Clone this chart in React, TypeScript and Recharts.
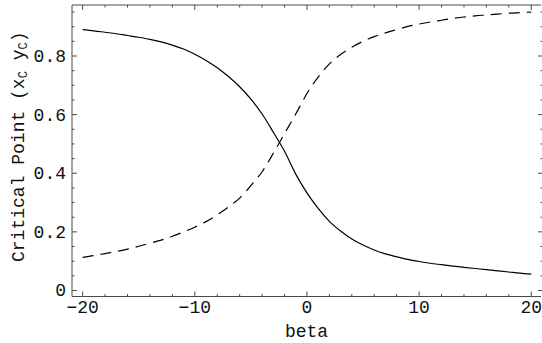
import { LineChart, Line, XAxis, YAxis, Label } from "recharts";

const betaValues = [
  -20, -19, -18, -17, -16, -15, -14, -13, -12, -11, -10, -9, -8, -7, -6, -5, -4, -3, -2, -1, 0,
  1, 2, 3, 4, 5, 6, 7, 8, 9, 10, 11, 12, 13, 14, 15, 16, 17, 18, 19, 20,
];
const xcValues = [
  0.89, 0.886, 0.881, 0.876, 0.87, 0.864, 0.857, 0.848, 0.837, 0.824, 0.806, 0.785, 0.76, 0.73,
  0.695, 0.653, 0.602, 0.54, 0.475, 0.397, 0.333, 0.28, 0.236, 0.203, 0.176, 0.155, 0.138, 0.125,
  0.115, 0.106, 0.099, 0.093, 0.088, 0.083, 0.079, 0.075, 0.071, 0.067, 0.063, 0.059, 0.056,
];
const ycValues = [
  0.113, 0.119, 0.126, 0.133, 0.141, 0.151, 0.161, 0.172, 0.185, 0.2, 0.216, 0.235, 0.258, 0.285,
  0.315, 0.358, 0.405, 0.468, 0.535, 0.602, 0.672, 0.728, 0.773, 0.805, 0.83, 0.85, 0.866, 0.879,
  0.89, 0.901, 0.909, 0.916, 0.922, 0.928, 0.933, 0.937, 0.94, 0.943, 0.946, 0.948, 0.95,
];

const xTicks = [-20, -18, -16, -14, -12, -10, -8, -6, -4, -2, 0, 2, 4, 6, 8, 10, 12, 14, 16, 18, 20];
const xLabelTicks = [-20, -10, 0, 10, 20];
const yTicks = [
  0, 0.05, 0.1, 0.15, 0.2, 0.25, 0.3, 0.35, 0.4, 0.45, 0.5, 0.55, 0.6, 0.65, 0.7, 0.75, 0.8, 0.85,
  0.9, 0.95,
];
const yLabelTicks = [0, 0.2, 0.4, 0.6, 0.8];

const data = betaValues.map((b, i) => ({ beta: b, xc: xcValues[i], yc: ycValues[i] }));

const FONT = "'Liberation Mono', 'DejaVu Sans Mono', monospace";
const FS = 18;
const FRAME = "#4a4a4a";
const TICK_GAP = 2;
const MAJOR = 5;
const MINOR = 2.5;

const isMajor = (v: number, list: number[]) => list.some((m) => Math.abs(m - v) < 1e-6);

function BottomTick(props: any) {
  const { x, y, payload } = props;
  const v = payload.value;
  const major = isMajor(v, xLabelTicks);
  const base = y - TICK_GAP;
  return (
    <g>
      <line x1={x} x2={x} y1={base} y2={base - (major ? MAJOR : MINOR)} stroke={FRAME} strokeWidth={1} />
      {major && (
        <text x={x} y={base + 16} textAnchor="middle" fontFamily={FONT} fontSize={FS} fill="#111">
          {v < 0 ? `\u2212${Math.abs(v)}` : String(v)}
        </text>
      )}
    </g>
  );
}

function TopTick(props: any) {
  const { x, y, payload } = props;
  const major = isMajor(payload.value, xLabelTicks);
  const base = y + TICK_GAP;
  return <line x1={x} x2={x} y1={base} y2={base + (major ? MAJOR : MINOR)} stroke={FRAME} strokeWidth={1} />;
}

function LeftTick(props: any) {
  const { x, y, payload } = props;
  const v = payload.value;
  const major = isMajor(v, yLabelTicks);
  const base = x + TICK_GAP;
  return (
    <g>
      <line x1={base} x2={base + (major ? MAJOR : MINOR)} y1={y} y2={y} stroke={FRAME} strokeWidth={1} />
      {major && (
        <text x={base - 6} y={y + 6} textAnchor="end" fontFamily={FONT} fontSize={FS} fill="#111">
          {v === 0 ? "0" : v.toFixed(1)}
        </text>
      )}
    </g>
  );
}

// the right frame edge sits just past the picture, so only the tips of its ticks show
function RightTick(props: any) {
  const { x, y, payload } = props;
  const major = isMajor(payload.value, yLabelTicks);
  return <line x1={x} x2={x - (major ? MAJOR : MINOR)} y1={y} y2={y} stroke={FRAME} strokeWidth={1} />;
}

function YTitle(props: any) {
  const { viewBox } = props;
  const cy = viewBox.y + viewBox.height / 2 - 4;
  const cx = 24;
  return (
    <text
      x={cx}
      y={cy}
      transform={`rotate(-90, ${cx}, ${cy})`}
      textAnchor="middle"
      fontFamily={FONT}
      fontSize={FS}
      fill="#111"
    >
      Critical Point (x
      <tspan fontSize={12} dy={3}>C</tspan>
      <tspan dy={-3}> y</tspan>
      <tspan fontSize={12} dy={3}>C</tspan>
      <tspan dy={-3}>)</tspan>
    </text>
  );
}

export default function App() {
  return (
    <div style={{ position: "absolute", left: 0, top: 0, background: "#fff" }}>
      <LineChart width={542} height={343} data={data} margin={{ top: 4, right: 0, bottom: 0, left: 0 }}>
        <XAxis
          dataKey="beta"
          type="number"
          domain={[-20.95, 20.87]}
          ticks={xTicks}
          interval={0}
          allowDataOverflow
          height={46.5}
          tickSize={0}
          tickMargin={TICK_GAP}
          axisLine={{ stroke: FRAME, strokeWidth: 1 }}
          tick={<BottomTick />}
        >
          <Label
            value="beta"
            position="insideBottom"
            offset={6}
            style={{ fontFamily: FONT, fontSize: FS, fill: "#111" }}
          />
        </XAxis>
        <XAxis
          xAxisId="top"
          dataKey="beta"
          type="number"
          orientation="top"
          domain={[-20.95, 20.87]}
          ticks={xTicks}
          interval={0}
          allowDataOverflow
          height={1}
          tickSize={0}
          tickMargin={TICK_GAP}
          axisLine={{ stroke: FRAME, strokeWidth: 1 }}
          tick={<TopTick />}
        />
        <YAxis
          type="number"
          domain={[-0.0205, 0.974]}
          ticks={yTicks}
          interval={0}
          allowDataOverflow
          width={72}
          tickSize={0}
          tickMargin={TICK_GAP}
          axisLine={{ stroke: FRAME, strokeWidth: 1 }}
          tick={<LeftTick />}
        >
          <Label content={<YTitle />} />
        </YAxis>
        <YAxis
          yAxisId="right"
          orientation="right"
          type="number"
          domain={[-0.0205, 0.974]}
          ticks={yTicks}
          interval={0}
          allowDataOverflow
          width={1}
          tickSize={0}
          tickMargin={TICK_GAP}
          axisLine={false}
          tick={<RightTick />}
        />
        <Line
          dataKey="xc"
          type="monotone"
          stroke="#000"
          strokeWidth={1.2}
          dot={false}
          isAnimationActive={false}
        />
        <Line
          dataKey="yc"
          type="monotone"
          stroke="#000"
          strokeWidth={1.2}
          strokeDasharray="11 7"
          dot={false}
          isAnimationActive={false}
        />
      </LineChart>
    </div>
  );
}
